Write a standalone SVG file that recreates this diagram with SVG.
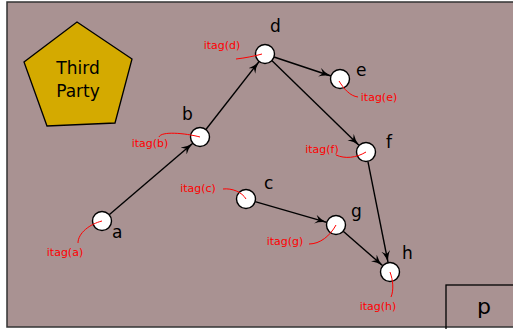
<svg xmlns="http://www.w3.org/2000/svg" width="513" height="329" viewBox="0 0 513 329">
<style>
.node{fill:#fff;stroke:#000;stroke-width:1.4}
.lbl{font-family:"DejaVu Sans",sans-serif;font-size:17px;fill:#000}
.tag{font-family:"DejaVu Sans",sans-serif;font-size:11px;fill:#ff0000;text-anchor:middle}
.tagc{fill:none;stroke:#ff0000;stroke-width:1}
.edge{stroke:#000;stroke-width:1.4;fill:none;marker-end:url(#arr)}
</style>
<defs>
<marker id="arr" markerUnits="userSpaceOnUse" markerWidth="14" markerHeight="10" refX="12" refY="4.5" orient="auto">
<path d="M0,0 Q5,3.5 12,4.5 Q5,5.5 0,9 L3.5,4.5 z" fill="#000"/>
</marker>
</defs>
<rect x="7" y="2" width="520" height="325" fill="#a99292" stroke="#333" stroke-width="1.5"/>
<g id="thirdparty">
<polygon points="77,22 132,59 115,123 47,126 24,62" fill="#d4aa00" stroke="#000" stroke-width="1.3"/>
<text x="78" y="74" class="lbl" text-anchor="middle">Third</text>
<text x="78" y="97" class="lbl" text-anchor="middle">Party</text>
</g>
<g id="p">
<rect x="446" y="285" width="80" height="45" fill="none" stroke="#000" stroke-width="1.3"/>
<text x="484" y="314" class="lbl" text-anchor="middle" style="font-size:22px">p</text>
</g>
<g id="connectors">
<line class="edge" x1="109.2" y1="214.8" x2="192.8" y2="143.2"/>
<line class="edge" x1="205.9" y1="129.5" x2="259.1" y2="61.5"/>
<line class="edge" x1="274" y1="57" x2="331" y2="76"/>
<line class="edge" x1="271.8" y1="60.6" x2="359.2" y2="145.4"/>
<line class="edge" x1="255.1" y1="201.6" x2="326.9" y2="222.4"/>
<line class="edge" x1="343.2" y1="231.2" x2="382.8" y2="265.8"/>
<line class="edge" x1="367.9" y1="161.3" x2="388.1" y2="262.7"/>
</g>
<g id="a">
<circle class="node" cx="102" cy="221" r="9.5"/>
<path class="tagc" d="M78,243 C78,233 90,224 102,221"/>
<text class="lbl" x="112" y="238">a</text>
<text class="tag" x="65" y="256">itag(a)</text>
</g>
<g id="b">
<circle class="node" cx="200" cy="137" r="9.5"/>
<path class="tagc" d="M159,137 C161,131 185,133 200,137"/>
<text class="lbl" x="182" y="120">b</text>
<text class="tag" x="150" y="147">itag(b)</text>
</g>
<g id="d">
<circle class="node" cx="265" cy="54" r="9.5"/>
<path class="tagc" d="M236,59 C245,58 255,56 262,54"/>
<text class="lbl" x="270" y="32">d</text>
<text class="tag" x="222" y="49">itag(d)</text>
</g>
<g id="e">
<circle class="node" cx="340" cy="79" r="9.5"/>
<path class="tagc" d="M358,97 C350,96 344,89 339,81"/>
<text class="lbl" x="356" y="76">e</text>
<text class="tag" x="379" y="101">itag(e)</text>
</g>
<g id="f">
<circle class="node" cx="366" cy="152" r="9.5"/>
<path class="tagc" d="M336,155 C345,159 356,158 366,152"/>
<text class="lbl" x="386" y="148">f</text>
<text class="tag" x="322" y="153">itag(f)</text>
</g>
<g id="c">
<circle class="node" cx="246" cy="199" r="9.5"/>
<path class="tagc" d="M223,189 C232,188 242,192 246,199"/>
<text class="lbl" x="264" y="189">c</text>
<text class="tag" x="198" y="192">itag(c)</text>
</g>
<g id="g">
<circle class="node" cx="336" cy="225" r="9.5"/>
<path class="tagc" d="M309,244 C320,244 330,236 336,225"/>
<text class="lbl" x="351" y="217">g</text>
<text class="tag" x="285" y="245">itag(g)</text>
</g>
<g id="h">
<circle class="node" cx="390" cy="272" r="9.5"/>
<path class="tagc" d="M391,297 C394,290 393,280 390,272"/>
<text class="lbl" x="402" y="259">h</text>
<text class="tag" x="378" y="310">itag(h)</text>
</g>
</svg>
